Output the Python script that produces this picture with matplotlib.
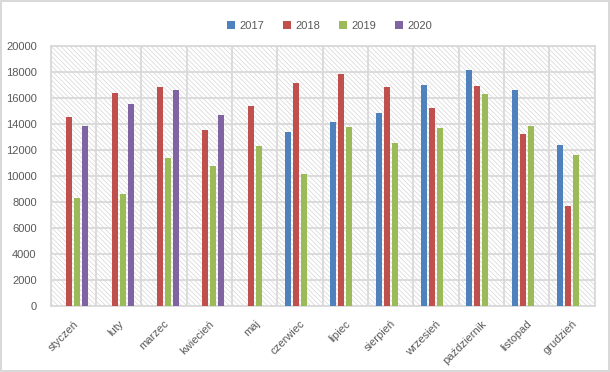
import numpy as np
import matplotlib
matplotlib.use("Agg")
import matplotlib.pyplot as plt
from matplotlib.patches import Patch, Rectangle

miesiace = ["styczeń", "luty", "marzec", "kwiecień", "maj", "czerwiec",
            "lipiec", "sierpień", "wrzesień", "październik", "listopad", "grudzień"]
lata = ["2017", "2018", "2019", "2020"]
nan = np.nan
v2017 = [nan, nan, nan, nan, nan, 13400, 14150, 14850, 17000, 18150, 16600, 12400]
v2018 = [14500, 16400, 16850, 13550, 15400, 17150, 17850, 16850, 15250, 16900, 13250, 7700]
v2019 = [8300, 8600, 11400, 10800, 12300, 10150, 13750, 12550, 13700, 16300, 13850, 11600]
v2020 = [13800, 15500, 16600, 14700, nan, nan, nan, nan, nan, nan, nan, nan]
kolory = ["#4F81BD", "#C0504D", "#9BBB59", "#8064A2"]

plt.rcParams["font.family"] = ["Liberation Sans", "DejaVu Sans"]
plt.rcParams["hatch.linewidth"] = 0.5

fig = plt.figure(figsize=(6.1, 3.72), dpi=100, edgecolor="#d9d9d9", linewidth=1.5)
ax = fig.add_axes([0.083, 0.177, 0.892, 0.700])

# kreskowane tło obszaru wykresu
ax.add_patch(Rectangle((0, 0), 1, 1, transform=ax.transAxes, facecolor="white",
                       edgecolor="#d6d6d6", linewidth=0, hatch="\\\\\\\\\\\\\\", zorder=0))

x = np.arange(len(miesiace))
krok = 0.176
szer = 0.132
for i, (dane, kol) in enumerate(zip([v2017, v2018, v2019, v2020], kolory)):
    ax.bar(x + (i - 1.5) * krok, np.array(dane, dtype=float), width=szer,
           color=kol, zorder=3, label=lata[i])

ax.set_xlim(-0.5, len(miesiace) - 0.5)
ax.set_ylim(0, 20000)
ax.set_yticks(np.arange(0, 20001, 2000))
ax.set_xticks(x)
ax.set_xticklabels(miesiace, rotation=45, ha="right", va="top", rotation_mode="anchor")
ax.set_xticks(np.arange(-0.5, len(miesiace)), minor=True)
ax.grid(True, axis="y", color="#d9d9d9", linewidth=1.3, zorder=1)
ax.grid(True, axis="x", which="minor", color="#d9d9d9", linewidth=1.3, zorder=1)
ax.tick_params(axis="both", which="both", length=0, labelsize=8, colors="#595959")
ax.tick_params(axis="y", pad=10)
ax.tick_params(axis="x", pad=9)
ax.set_axisbelow(True)
for s in ax.spines.values():
    s.set_color("#d9d9d9")
    s.set_linewidth(1.3)

uchwyty = [Patch(facecolor=k, label=l) for k, l in zip(kolory, lata)]
leg = fig.legend(handles=uchwyty, loc="center", bbox_to_anchor=(0.54, 0.93), ncol=4,
                 frameon=False, fontsize=8, handlelength=0.7, handleheight=0.7,
                 handletextpad=0.4, columnspacing=1.7)
for t in leg.get_texts():
    t.set_color("#595959")

fig.savefig("out.png", dpi=100)
